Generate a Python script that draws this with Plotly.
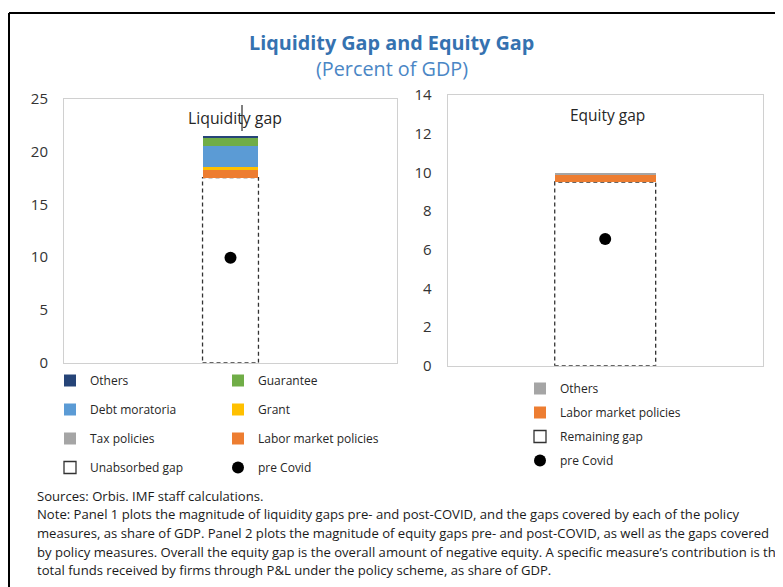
import plotly.graph_objects as go

# Liquidity gap, stacked from the bottom up (percent of GDP)
liq_names = ["Unabsorbed gap", "Labor market policies", "Tax policies", "Grant",
             "Debt moratoria", "Guarantee", "Others"]
liq_values = [17.55, 0.76, 0.05, 0.15, 2.05, 0.82, 0.12]
liq_pre_covid = 9.95

# Equity gap, stacked from the bottom up
eq_names = ["Remaining gap", "Labor market policies", "Others"]
eq_values = [9.5, 0.4, 0.05]
eq_pre_covid = 6.55

liq_ticks = [0, 5, 10, 15, 20, 25]
eq_ticks = [0, 2, 4, 6, 8, 10, 12, 14]

COLORS = {
    "Others": "#264478",
    "Guarantee": "#70AD47",
    "Debt moratoria": "#5B9BD5",
    "Grant": "#FFC000",
    "Tax policies": "#A5A5A5",
    "Labor market policies": "#ED7D31",
}
EQ_COLORS = {"Labor market policies": "#ED7D31", "Others": "#A5A5A5"}

# legend placement: which column and order
LIQ_LEGEND = {
    "Others": ("legend", 1), "Debt moratoria": ("legend", 2),
    "Tax policies": ("legend", 3), "Unabsorbed gap": ("legend", 4),
    "Guarantee": ("legend2", 1), "Grant": ("legend2", 2),
    "Labor market policies": ("legend2", 3), "pre Covid": ("legend2", 4),
}
EQ_RANK = {"Others": 1, "Labor market policies": 2, "Remaining gap": 3, "pre Covid": 4}

W, H = 783, 587
OFF = 8  # page body margin in the rendered page
FONT = "Open Sans, Noto Sans, sans-serif"
TXT = "#262626"
LIQ_BW = 0.336
EQ_BW = 0.641


# positions below are given in screenshot pixels
def px_x(v):
    return (v - OFF) / W


def px_y(v):
    return 1 - (v - OFF) / H


fig = go.Figure()

# ---- liquidity panel ----
for name, val in zip(liq_names, liq_values):
    gap = name == "Unabsorbed gap"
    leg, rank = LIQ_LEGEND[name]
    fig.add_trace(go.Bar(
        x=[0], y=[val], width=LIQ_BW, name=name,
        marker=dict(color="rgba(0,0,0,0)" if gap else COLORS[name], line=dict(width=0)),
        showlegend=not gap, legend=leg, legendrank=rank, legendgroup="l_" + name,
        xaxis="x", yaxis="y", hoverinfo="name+y",
    ))
fig.add_shape(
    type="rect", xref="x", yref="y", x0=-LIQ_BW / 2, x1=LIQ_BW / 2, y0=0, y1=liq_values[0],
    line=dict(color="#333333", width=1.3, dash="4px,3px"), fillcolor="rgba(0,0,0,0)",
    layer="below", name="Unabsorbed gap", showlegend=True, legend="legend",
    legendrank=4, legendgroup="l_Unabsorbed gap",
)
fig.add_trace(go.Scatter(
    x=[0], y=[liq_pre_covid], mode="markers", name="pre Covid",
    marker=dict(color="black", size=12), legend="legend2", legendrank=4,
    legendgroup="l_pre", xaxis="x", yaxis="y",
))

# ---- equity panel ----
for name, val in zip(eq_names, eq_values):
    gap = name == "Remaining gap"
    fig.add_trace(go.Bar(
        x=[0], y=[val], width=EQ_BW, name=name,
        marker=dict(color="rgba(0,0,0,0)" if gap else EQ_COLORS[name], line=dict(width=0)),
        showlegend=not gap, legend="legend3", legendrank=EQ_RANK[name],
        legendgroup="e_" + name, xaxis="x2", yaxis="y2", hoverinfo="name+y",
    ))
fig.add_shape(
    type="rect", xref="x2", yref="y2", x0=-EQ_BW / 2, x1=EQ_BW / 2, y0=0, y1=eq_values[0],
    line=dict(color="#333333", width=1.3, dash="4px,3px"), fillcolor="rgba(0,0,0,0)",
    layer="below", name="Remaining gap", showlegend=True, legend="legend3",
    legendrank=3, legendgroup="e_Remaining gap",
)
fig.add_trace(go.Scatter(
    x=[0], y=[eq_pre_covid], mode="markers", name="pre Covid",
    marker=dict(color="black", size=12), legend="legend3", legendrank=4,
    legendgroup="e_pre", xaxis="x2", yaxis="y2",
))

axis_common = dict(showline=True, mirror=True, linecolor="#d0d0d0", linewidth=1,
                   showgrid=False, zeroline=False, automargin=False)
leg_common = dict(font=dict(family=FONT, size=12, color=TXT), bgcolor="rgba(0,0,0,0)",
                  orientation="v", xanchor="left", yanchor="top", tracegroupgap=10,
                  itemclick=False, itemdoubleclick=False)

fig.update_layout(
    width=W, height=H, barmode="stack", bargap=0,
    margin=dict(l=0, r=0, t=0, b=0, autoexpand=False),
    paper_bgcolor="white", plot_bgcolor="white",
    font=dict(family=FONT, color=TXT),
    xaxis=dict(domain=[px_x(64), px_x(397)], range=[-1, 1], showticklabels=False,
               ticks="", **axis_common),
    yaxis=dict(domain=[px_y(362.7), px_y(99)], range=[0, 25], tickvals=liq_ticks,
               ticks="outside", ticklen=12, tickcolor="rgba(0,0,0,0)",
               tickfont=dict(size=15, color="#333333"), **axis_common),
    xaxis2=dict(domain=[px_x(447.7), px_x(762.7)], range=[-1, 1], showticklabels=False,
                ticks="", anchor="y2", **axis_common),
    yaxis2=dict(domain=[px_y(365.7), px_y(95)], range=[0, 14], tickvals=eq_ticks,
                ticks="outside", ticklen=12, tickcolor="rgba(0,0,0,0)", anchor="x2",
                tickfont=dict(size=15, color="#333333"), **axis_common),
    legend=dict(x=px_x(50), y=px_y(366), **leg_common),
    legend2=dict(x=px_x(218), y=px_y(366), **leg_common),
    legend3=dict(x=px_x(520), y=px_y(374), **{**leg_common, "tracegroupgap": 5}),
    showlegend=True,
)


def label(x, y, text, size, color, bold=False):
    fig.add_annotation(x=px_x(x), y=px_y(y), xref="paper", yref="paper",
                       xanchor="center", yanchor="middle", showarrow=False,
                       text=f"<b>{text}</b>" if bold else text,
                       font=dict(family=FONT, size=size, color=color))


# titles
label(391.5, 42, "Liquidity Gap and Equity Gap", 19.8, "#3572B0", bold=True)
label(391.5, 69, "(Percent of GDP)", 19.8, "#4A86C5")
label(235, 118, "Liquidity gap", 15.8, TXT)
label(607, 115, "Equity gap", 15.5, TXT)

# text cursor mark visible in the source image
fig.add_shape(type="line", xref="paper", yref="paper", x0=px_x(242), x1=px_x(242),
              y0=px_y(105), y1=px_y(131), line=dict(color="black", width=1))

# frame lines at the top and left edges
fig.add_shape(type="line", xref="paper", yref="paper", x0=px_x(9), x1=1.02,
              y0=px_y(13), y1=px_y(13), line=dict(color="black", width=2))
fig.add_shape(type="line", xref="paper", yref="paper", x0=px_x(9), x1=px_x(9),
              y0=px_y(13), y1=-0.02, line=dict(color="black", width=2))

notes = [
    "Sources: Orbis. IMF staff calculations.",
    "Note: Panel 1 plots the magnitude of liquidity gaps pre- and post-COVID, and the gaps covered by each of the policy",
    "measures, as share of GDP. Panel 2 plots the magnitude of equity gaps pre- and post-COVID, as well as the gaps covered",
    "by policy measures. Overall the equity gap is the overall amount of negative equity. A specific measure\u2019s contribution is the",
    "total funds received by firms through P&L under the policy scheme, as share of GDP.",
]
for i, line in enumerate(notes):
    fig.add_annotation(x=px_x(35), y=px_y(496 + i * 18.5), xref="paper", yref="paper",
                       xanchor="left", yanchor="middle", showarrow=False, text=line,
                       font=dict(family=FONT, size=13.1, color="#1a1a1a"))

fig.write_html("out.html")
